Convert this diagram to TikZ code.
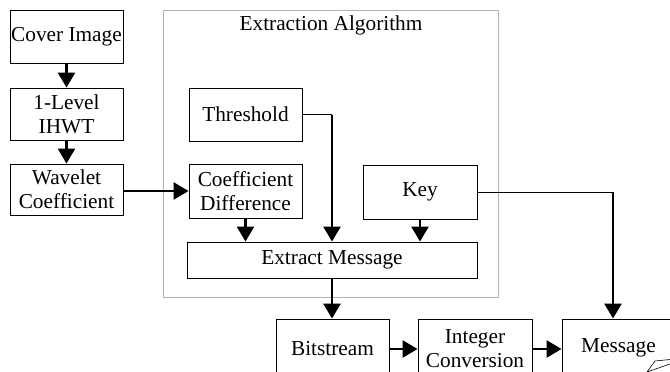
\documentclass[tikz,border=0pt]{standalone}
\usepackage{fontspec}
\setmainfont{Liberation Serif}
\usetikzlibrary{arrows.meta,positioning}
\tikzset{%
	block/.style = {draw, rectangle, line width=0.9pt, inner sep=0pt, text centered, align=center, font=\fontsize{21.3}{24}\selectfont},
	frame/.style = {draw=black!30, line width=1pt, inner sep=0pt},
	arrow/.style = {line width=2.6pt, -{Triangle[length=15pt,width=17pt]}},
	feed/.style  = {line width=0.9pt},
}

\begin{document}
\begin{tikzpicture}[x=1pt,y=-1pt]
	\useasboundingbox (0,0) rectangle (670,372);
	\clip (0,0) rectangle (670,372);
	% outer frame
	\node[frame, minimum width=335, minimum height=287] (algo) at (330.5,153.5) {};
	\node[font=\fontsize{21.3}{24}\selectfont] (title) at (331,25) {Extraction Algorithm};
	% left column
	\node[block, minimum width=113, minimum height=53] (cover) at (66.5,36.5) {Cover Image};
	\node[block, minimum width=113, minimum height=52] (ihwt) at (66.5,114) {1-Level\\IHWT};
	\node[block, minimum width=113, minimum height=51] (wavelet) at (66.5,189.5) {Wavelet\\Coefficient};
	% inside the frame
	\node[block, minimum width=113, minimum height=53] (thresh) at (245.5,114.5) {Threshold};
	\node[block, minimum width=113, minimum height=54] (coefdiff) at (245.5,191) {Coefficient\\Difference};
	\node[block, minimum width=114, minimum height=54] (key) at (420,192) {Key};
	\node[block, minimum width=290, minimum height=36] (extract) at (332,260) {Extract Message};
	% bottom row
	\node[block, minimum width=113, minimum height=60] (bits) at (332.5,349) {Bitstream};
	\node[block, minimum width=114, minimum height=60] (intconv) at (475,349) {Integer\\Conversion};
	\node[block, minimum width=113, minimum height=60] (msg) at (618.5,349) {\raisebox{7pt}{Message}};
	\draw[line width=0.6pt] (647,372) -- (655,361) -- (670,359.5) (647,372) -- (670,364);
	\coordinate (kturn) at (613,192);
	% connectors
	\draw[arrow] (cover) -- (ihwt);
	\draw[arrow] (ihwt) -- (wavelet);
	\draw[arrow] (wavelet.east |- coefdiff.west) -- (coefdiff.west);
	\draw[feed] (thresh.east) -- (thresh.east -| extract.north);
	\draw[arrow] (thresh.east -| extract.north) -- (extract.north);
	\draw[arrow] (coefdiff.south) -- (coefdiff.south |- extract.north);
	\draw[arrow] (key.south) -- (key.south |- extract.north);
	\draw[arrow] (extract.south) -- (extract.south |- bits.north);
	\draw[arrow] (bits.east) -- (intconv.west);
	\draw[arrow] (intconv.east) -- (msg.west);
	\draw[feed] (key.east) -- (kturn);
	\draw[arrow] (kturn) -- (kturn |- msg.north);
\end{tikzpicture}
\end{document}
